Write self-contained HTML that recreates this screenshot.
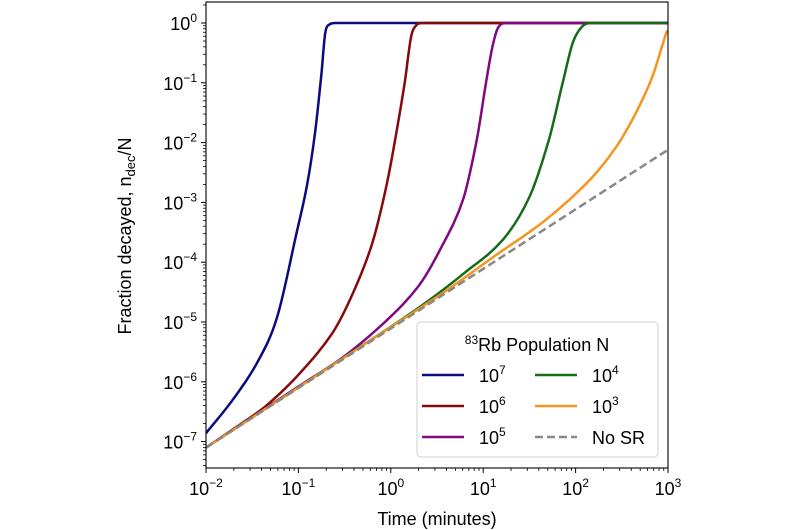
<!DOCTYPE html>
<html><head><meta charset="utf-8"><style>
html,body{margin:0;padding:0;background:#fff;}
svg{display:block;font-family:"Liberation Sans","DejaVu Sans",sans-serif;}
</style></head><body>
<svg id="chart" width="800" height="530" viewBox="0 0 800 530" xmlns="http://www.w3.org/2000/svg">
<g id="plot"></g>
</svg>
<script>
const xTicks = [-2,-1,0,1,2,3];
const yTicks = [0,-1,-2,-3,-4,-5,-6,-7];
const seriesNames = ["1e7","1e6","1e5","1e4","1e3","No SR"];
const s1e7x = [-2,-1.71,-1.45,-1.23,-1.02,-0.91,-0.82,-0.75,-0.71,-0.66,-0.6,3];
const s1e7y = [-6.86,-6.3,-5.69,-4.92,-3.51,-2.74,-1.84,-0.84,-0.17,-0.02,0,0];
const s1e6x = [-2,-1.6,-1.34,-0.98,-0.63,-0.41,-0.2,-0.05,0.06,0.15,0.22,0.28,0.34,3];
const s1e6y = [-7.1,-6.68,-6.39,-5.85,-5.18,-4.52,-3.68,-2.74,-1.84,-1.0,-0.23,-0.03,0,0];
const s1e5x = [-2,-1,-0.5,-0.05,0.3,0.53,0.78,0.93,1.03,1.1,1.16,1.25,3];
const s1e5y = [-7.1,-6.08,-5.57,-4.98,-4.4,-3.8,-2.96,-1.96,-1.0,-0.4,-0.08,0,0];
const s1e4x = [-2,0,0.42,0.78,1.21,1.5,1.71,1.86,1.97,2.07,2.18,3];
const s1e4y = [-7.1,-5.08,-4.63,-4.2,-3.63,-2.91,-1.96,-1.0,-0.33,-0.06,0,0];
const s1e3x = [-2,0.5,1.14,1.68,2.15,2.44,2.65,2.83,2.98,3];
const s1e3y = [-7.1,-4.58,-3.88,-3.29,-2.63,-2.07,-1.51,-0.9,-0.17,-0.12];
const noSRx = [-2,3];
const noSRy = [-7.1,-2.12];

const L=206,R=668,T=2,B=468;
const y0px=23, perDec=59.8;
const xs = v => L + (v+2)*(R-L)/5;
const ys = v => y0px - v*perDec;
const NS="http://www.w3.org/2000/svg";
const plot=document.getElementById('plot');
function mk(tag,attrs,parent){const e=document.createElementNS(NS,tag);for(const k in attrs)e.setAttribute(k,attrs[k]);(parent||plot).appendChild(e);return e;}
function clamp(v,a,b){const lo=Math.min(a,b),hi=Math.max(a,b);return Math.max(lo,Math.min(hi,v));}
function smoothPath(px,py){
  const P=px.map((v,i)=>[xs(v),ys(py[i])]);
  let d='M'+P[0][0].toFixed(1)+','+P[0][1].toFixed(1);
  for(let i=0;i<P.length-1;i++){
    const p0=P[Math.max(i-1,0)],p1=P[i],p2=P[i+1],p3=P[Math.min(i+2,P.length-1)];
    const dx=p2[0]-p1[0];
    // tangent slopes (dy/dx), limited
    const s1=(p2[1]-p0[1])/Math.max(p2[0]-p0[0],1e-6);
    const s2=(p3[1]-p1[1])/Math.max(p3[0]-p1[0],1e-6);
    const c1=[p1[0]+dx/3, clamp(p1[1]+s1*dx/3,p1[1],p2[1])];
    const c2=[p2[0]-dx/3, clamp(p2[1]-s2*dx/3,p1[1],p2[1])];
    d+=' C'+c1.map(v=>v.toFixed(1)).join(',')+' '+c2.map(v=>v.toFixed(1)).join(',')+' '+p2.map(v=>v.toFixed(1)).join(',');
  }
  return d;
}

const defs=mk('defs',{});
const cp=mk('clipPath',{id:'cp'},defs);
mk('rect',{x:L,y:T,width:R-L,height:B-T},cp);

const series=[[s1e7x,s1e7y,"#0b0b80",null,"line-1e7"],[s1e6x,s1e6y,"#860a0a",null,"line-1e6"],[s1e5x,s1e5y,"#7f0a7f",null,"line-1e5"],[s1e4x,s1e4y,"#176b17",null,"line-1e4"],[s1e3x,s1e3y,"#f7941d",null,"line-1e3"],[noSRx,noSRy,"#888888","8,4","line-no-sr"]];
const g=mk('g',{'clip-path':'url(#cp)'});


series.forEach(s=>{
  const p=mk('path',{d:smoothPath(s[0],s[1]),fill:'none',stroke:s[2],'stroke-width':2.5,'stroke-linejoin':'round'},g);
  if(s[3])p.setAttribute('stroke-dasharray',s[3]);
  
  
});

const fr=mk('rect',{x:L,y:T,width:R-L,height:B-T,fill:'none',stroke:'#000','stroke-width':1.1});



xTicks.forEach(t=>{
  const x=xs(t);
  mk('line',{x1:x,x2:x,y1:B,y2:B+5,stroke:'#000','stroke-width':1});
  const tx=mk('text',{x:x,y:B+27,'font-size':18,'text-anchor':'middle'});
  tx.innerHTML='10<tspan dy="-8" font-size="12">'+(t<0?'\u2212'+(-t):t)+'</tspan>';
  
  
  if(t<3)for(let m=2;m<10;m++){const xm=xs(t+Math.log10(m));mk('line',{x1:xm,x2:xm,y1:B,y2:B+3,stroke:'#000','stroke-width':0.8});}
});
yTicks.forEach(t=>{
  const y=ys(t);
  mk('line',{x1:L-5,x2:L,y1:y,y2:y,stroke:'#000','stroke-width':1});
  const tx=mk('text',{x:L-9,y:y+7,'font-size':18,'text-anchor':'end'});
  tx.innerHTML='10<tspan dy="-8" font-size="12">'+(t<0?'\u2212'+(-t):t)+'</tspan>';
  
  
  for(let m=2;m<10;m++){const ym=ys(t-1+Math.log10(m));if(ym<B&&ym>T)mk('line',{x1:L-3,x2:L,y1:ym,y2:ym,stroke:'#000','stroke-width':0.8});}
});
[2,3].forEach(m=>{const ym=ys(Math.log10(m));if(ym>T)mk('line',{x1:L-3,x2:L,y1:ym,y2:ym,stroke:'#000','stroke-width':0.8});});

const xt=mk('text',{x:(L+R)/2,y:525,'font-size':18,'text-anchor':'middle'});
xt.textContent='Time (minutes)';


const yt=mk('text',{x:0,y:0,'font-size':18,'text-anchor':'middle',transform:'translate(131,236) rotate(-90)'});
yt.innerHTML='Fraction decayed, n<tspan dy="4" font-size="13">dec</tspan><tspan dy="-4">/N</tspan>';



const lg=mk('g',{});


mk('rect',{x:417,y:322,width:241,height:135,rx:4,fill:'#fff','fill-opacity':0.85,stroke:'#d0d0d0','stroke-width':1},lg);
const lt=mk('text',{x:537,y:351,'font-size':18,'text-anchor':'middle'},lg);
lt.innerHTML='<tspan dy="-7" font-size="12">83</tspan><tspan dy="7">Rb Population N</tspan>';


const entries=[[0,0,"#0b0b80",null,"7"],[0,1,"#860a0a",null,"6"],[0,2,"#7f0a7f",null,"5"],[1,0,"#176b17",null,"4"],[1,1,"#f7941d",null,"3"],[1,2,"#888888","8,4",null]];
entries.forEach(e=>{
  const x0=e[0]?535:422, y=375+e[1]*31;
  const ln=mk('line',{x1:x0,x2:x0+42,y1:y,y2:y,stroke:e[2],'stroke-width':2.5},lg);
  if(e[3])ln.setAttribute('stroke-dasharray',e[3]);
  
  
  const t=mk('text',{x:x0+57,y:y+7,'font-size':18},lg);
  if(e[4])t.innerHTML='10<tspan dy="-8" font-size="12">'+e[4]+'</tspan>';else t.textContent='No SR';
  
  
});
</script>
</body></html>
